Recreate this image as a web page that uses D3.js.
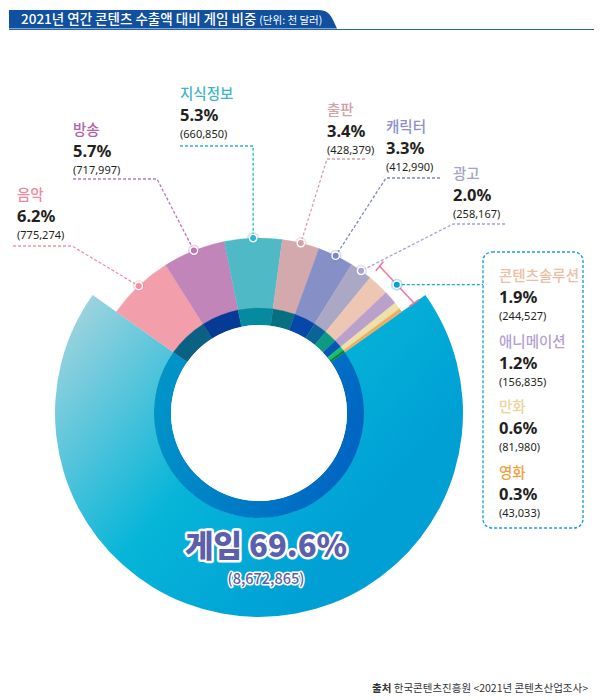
<!DOCTYPE html>
<html><head><meta charset="utf-8">
<script src="https://cdn.jsdelivr.net/npm/d3@7"></script>
<style>
html,body{margin:0;padding:0;background:#fff;}
svg{display:block;font-family:"Noto Sans CJK KR","Noto Sans",sans-serif;}
.num{font-family:"Noto Sans","Noto Sans CJK KR",sans-serif;}
</style></head>
<body><svg id="chart" width="603" height="700"></svg>
<script>
// ---- data ----
const categories = ["게임","음악","방송","지식정보","출판","캐릭터","광고","콘텐츠솔루션","애니메이션","만화","영화"];
const values = [8672865,775274,717997,660850,428379,412990,258167,244527,156835,81980,43033];
const percentLabels = ["69.6%","6.2%","5.7%","5.3%","3.4%","3.3%","2.0%","1.9%","1.2%","0.6%","0.3%"];
const titleText = "2021년 연간 콘텐츠 수출액 대비 게임 비중";
const unitText = "(단위: 천 달러)";
const sourceBold = "출처";
const sourceText = " 한국콘텐츠진흥원 <2021년 콘텐츠산업조사>";

// ---- styles ----
const sliceColors = [null,"#f29fab","#c185b9","#4fb9c5","#d4a9ad","#8690c7","#aaa8c4","#edc7b3","#baa1cc","#ede0a8","#eeab62"];
const ringColors  = [null,"#0a6184","#063b95","#058a9f","#066f80","#0548aa","#0a6495","#0c9b82","#0658b2","#12c274","#0b7c32"];
const labelColors = [null,"#f0899c","#b462aa","#3db7c5","#d3a0a6","#8a90cc","#a6a3c6","#ebbea4","#b69fd1","#ebd49a","#f0a03e"];
const lineColors  = [null,"#f391a3","#b97ab3","#2fb6c8","#d3a3a9","#7d87c8","#a8a3cf"];

const svg = d3.select("#chart");
const cx = 259, cy = 413;
const rHole = 88, rRing = 105, rOuter = 175, rGame = 204;

// gradients
const defs = svg.append("defs");
const g1 = defs.append("linearGradient").attr("id","gameGrad").attr("gradientUnits","userSpaceOnUse")
  .attr("x1",60).attr("y1",330).attr("x2",330).attr("y2",560);
g1.append("stop").attr("offset",0).attr("stop-color","#9dd3de");
g1.append("stop").attr("offset",0.55).attr("stop-color","#06b5d8");
g1.append("stop").attr("offset",1).attr("stop-color","#00a0d5");
const g2 = defs.append("linearGradient").attr("id","ringGrad").attr("gradientUnits","userSpaceOnUse")
  .attr("x1",150).attr("y1",380).attr("x2",370).attr("y2",450);
g2.append("stop").attr("offset",0).attr("stop-color","#0097c9");
g2.append("stop").attr("offset",1).attr("stop-color","#0062c2");

// ---- title ----
svg.append("path").attr("d","M9,10 H318 C327,10 330,14 333,20 L337,28.5 H9 Z").attr("fill","#114f9f");
svg.append("line").attr("x1",9).attr("x2",594).attr("y1",29.5).attr("y2",29.5).attr("stroke","#2a64ad").attr("stroke-width",1);
const tt = svg.append("text").attr("x",21).attr("y",24).attr("fill","#fff");
tt.append("tspan").attr("font-size",13.5).attr("font-weight",500).text(titleText);
tt.append("tspan").attr("font-size",10.5).attr("dx",3).text(unitText);

// ---- pie ----
const data = categories.map((c,i)=>({name:c,value:values[i],pct:percentLabels[i],i}));
const total = d3.sum(values);
const gameFrac = values[0]/total;
const start = Math.PI - gameFrac*Math.PI;
const pie = d3.pie().sort(null).value(d=>d.value).startAngle(start).endAngle(start+2*Math.PI);
const arcs = pie(data);

const g = svg.append("g").attr("transform",`translate(${cx},${cy})`);
g1.attr("gradientTransform",`translate(${-cx},${-cy})`);
g2.attr("gradientTransform",`translate(${-cx},${-cy})`);
const arcOuter = d3.arc().innerRadius(rRing-0.5).outerRadius(d=>d.data.i===0?rGame:rOuter);
const arcRing = d3.arc().innerRadius(rHole).outerRadius(rRing);

g.selectAll("path.outer").data(arcs).join("path").attr("class","outer")
  .attr("d",arcOuter)
  .attr("fill",d=>d.data.i===0?"url(#gameGrad)":sliceColors[d.data.i])
  .attr("stroke",d=>d.data.i===0?"none":sliceColors[d.data.i]).attr("stroke-width",0.3);

g.selectAll("path.ring").data(arcs).join("path").attr("class","ring")
  .attr("d",arcRing)
  .attr("fill",d=>d.data.i===0?"url(#ringGrad)":ringColors[d.data.i])
  .attr("stroke",d=>d.data.i===0?"none":ringColors[d.data.i]).attr("stroke-width",0.3);
g.append("circle").attr("r",rHole).attr("fill","#fff");

// ---- labels ----
const layout = {
  "음악":   {x:17, y:201, line:[[13,246],[72,246]]},
  "방송":   {x:73, y:136, line:[[73,179],[157,179]]},
  "지식정보":{x:180,y:100, line:[[180,146],null], vertical:true},
  "출판":   {x:327,y:116, line:[[365,159],[327,159]]},
  "캐릭터": {x:386,y:133, line:[[440,178],[386,178]]},
  "광고":   {x:453,y:180, line:[[505,224],[453,224]]}
};
function angPos(a,r){return [cx+r*Math.sin(a), cy-r*Math.cos(a)];}
function dot(p,color){
  svg.append("circle").attr("cx",p[0]).attr("cy",p[1]).attr("r",6).attr("fill",color).attr("opacity",0.3);
  svg.append("circle").attr("cx",p[0]).attr("cy",p[1]).attr("r",4.4).attr("fill","#fff");
  svg.append("circle").attr("cx",p[0]).attr("cy",p[1]).attr("r",3).attr("fill",color);
}
const fmt = d3.format(",");
function labelBlock(x,y,d){
  const i=d.i;
  svg.append("text").attr("x",x).attr("y",y-1).attr("font-size",14.5).attr("font-weight",500)
    .attr("fill",labelColors[i]).text(d.name);
  svg.append("text").attr("class","num").attr("x",x).attr("y",y+21).attr("font-size",16.5).attr("font-weight",700)
    .attr("fill","#231f20").text(d.pct);
  svg.append("text").attr("class","num").attr("x",x).attr("y",y+38).attr("font-size",11).attr("font-weight",400)
    .attr("fill","#231f20").text("("+fmt(d.value)+")");
}
arcs.slice(1,7).forEach(a=>{
  const d=a.data, L=layout[d.name];
  const mid=(a.startAngle+a.endAngle)/2;
  const p=angPos(mid,rOuter);
  labelBlock(L.x,L.y,d);
  let pts;
  if(L.vertical){ pts=[[L.line[0][0],L.line[0][1]],[p[0],L.line[0][1]],p]; }
  else { pts=[L.line[0],L.line[1],p]; }
  svg.append("path").attr("d",d3.line()(pts)).attr("fill","none")
    .attr("stroke",lineColors[d.i]).attr("stroke-width",1.3).attr("stroke-dasharray","3,2");
  dot(p,lineColors[d.i]);
});

// bracket for small slices
const sA = arcs[7].startAngle, eA = arcs[10].endAngle;
const rB = 190;
const b1 = angPos(sA,rB), b2 = angPos(eA,rB);
const bracket = svg.append("g").attr("stroke","#f27a9c").attr("stroke-width",1.6).attr("fill","none");
bracket.append("line").attr("x1",b1[0]).attr("y1",b1[1]).attr("x2",b2[0]).attr("y2",b2[1]);
[sA,eA].forEach(a=>{
  const p1=angPos(a,rB-6), p2=angPos(a,rB+6);
  bracket.append("line").attr("x1",p1[0]).attr("y1",p1[1]).attr("x2",p2[0]).attr("y2",p2[1]);
});
const bm = [(b1[0]+b2[0])/2,(b1[1]+b2[1])/2];
// box
const box = {x:483,y:252,w:100,h:276};
svg.append("rect").attr("x",box.x).attr("y",box.y).attr("width",box.w).attr("height",box.h)
  .attr("rx",9).attr("fill","none").attr("stroke","#1ba3dc").attr("stroke-width",1.4).attr("stroke-dasharray","3,2");
svg.append("path").attr("d",d3.line()([bm,[box.x,bm[1]]])).attr("fill","none")
  .attr("stroke","#1ba3dc").attr("stroke-width",1.4).attr("stroke-dasharray","3,2");
dot(bm,"#0a9edb");
const boxY = [282,348,413,479];
arcs.slice(7).forEach((a,k)=>labelBlock(499,boxY[k],a.data));

// game label
const gl = svg.append("g").attr("text-anchor","middle").attr("fill","#5b5fac")
  .attr("stroke","#fff").attr("stroke-linejoin","round").style("paint-order","stroke");
gl.append("text").attr("x",266).attr("y",557).attr("font-size",31).attr("font-weight",800)
  .attr("stroke-width",5).text(data[0].name+" "+data[0].pct);
gl.append("text").attr("x",266).attr("y",584).attr("font-size",14.5).attr("font-weight",500)
  .attr("stroke-width",3).text("("+fmt(data[0].value)+")");

// source
const st = svg.append("text").attr("x",588).attr("y",692).attr("text-anchor","end").attr("font-size",10.5).attr("fill","#333");
st.append("tspan").attr("font-weight",700).text(sourceBold);
st.append("tspan").text(sourceText);
</script></body></html>
